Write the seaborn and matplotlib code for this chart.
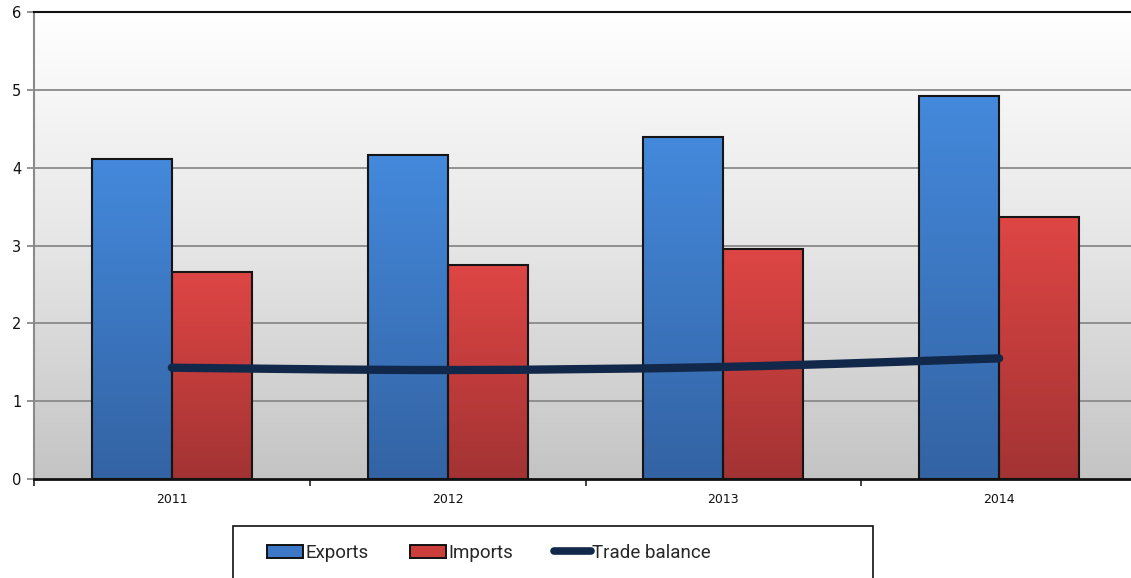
import numpy as np
import pandas as pd
import matplotlib
matplotlib.use("Agg")
import matplotlib.pyplot as plt
from matplotlib.colors import LinearSegmentedColormap
from matplotlib.path import Path
from matplotlib.patches import PathPatch, Patch, Rectangle
from matplotlib.lines import Line2D
import seaborn as sns

# Trade figures by year
years = ["2011", "2012", "2013", "2014"]
exports = [4.11, 4.16, 4.40, 4.92]
imports = [2.66, 2.75, 2.96, 3.36]
trade_balance = [1.43, 1.40, 1.44, 1.55]
y_ticks = [0, 1, 2, 3, 4, 5, 6]

series_names = ["Exports", "Imports"]
top_colors = {"Exports": "#4489DC", "Imports": "#DE4644"}
bottom_colors = {"Exports": "#3363A3", "Imports": "#A33333"}
mid_colors = {"Exports": "#3C78C6", "Imports": "#CC3E3C"}
line_color = "#12284A"

df = pd.DataFrame({
    "year": years * 2,
    "value": exports + imports,
    "series": ["Exports"] * len(years) + ["Imports"] * len(years),
})

sns.set_theme(style="white")
plt.rcParams["font.family"] = ["DejaVu Sans"]

W, H = 1131, 578
fig = plt.figure(figsize=(W / 100, H / 100), dpi=100)
ax_left, ax_right, ax_top, ax_bottom = 34, 1137, 12, 479
ax = fig.add_axes([ax_left / W, 1 - ax_bottom / H,
                   (ax_right - ax_left) / W, (ax_bottom - ax_top) / H])

sns.barplot(data=df, x="year", y="value", hue="series", order=years,
            hue_order=series_names, palette=mid_colors, width=0.58,
            gap=0, ax=ax, legend=False, saturation=1,
            edgecolor="#151515", linewidth=1.5, zorder=3)

ax.set_xlim(-0.5, len(years) - 0.5)
ax.set_ylim(0, 6)

# Plot-area background: light at the top, grey towards the baseline
bg = LinearSegmentedColormap.from_list("bg", ["#C4C4C4", "#E6E6E6", "#FFFFFF"])
ax.imshow(np.linspace(0, 1, 256).reshape(-1, 1), cmap=bg, aspect="auto",
          extent=(-0.5, len(years) - 0.5, 0, 6), origin="lower", zorder=0)

# Vertical gradient fill inside each bar
grad = np.linspace(0, 1, 256).reshape(-1, 1)
for container, name in zip(ax.containers, series_names):
    cmap = LinearSegmentedColormap.from_list(
        name, [bottom_colors[name], top_colors[name]])
    for bar in container:
        x0, w, h = bar.get_x(), bar.get_width(), bar.get_height()
        ax.imshow(grad, cmap=cmap, aspect="auto", origin="lower",
                  extent=(x0, x0 + w, 0, h), zorder=3.5)
        bar.set_facecolor("none")
        bar.set_zorder(4)

# Smoothed trade balance curve (cubic Bezier through each yearly value)
xs = np.arange(len(years), dtype=float)
ys = np.asarray(trade_balance, dtype=float)
verts = [(xs[0], ys[0])]
codes = [Path.MOVETO]
for i in range(len(xs) - 1):
    p0 = np.array([xs[max(i - 1, 0)], ys[max(i - 1, 0)]])
    p1 = np.array([xs[i], ys[i]])
    p2 = np.array([xs[i + 1], ys[i + 1]])
    p3 = np.array([xs[min(i + 2, len(xs) - 1)], ys[min(i + 2, len(xs) - 1)]])
    c1 = p1 + (p2 - p0) / 6.0
    c2 = p2 - (p3 - p1) / 6.0
    verts += [tuple(c1), tuple(c2), tuple(p2)]
    codes += [Path.CURVE4] * 3
ax.add_patch(PathPatch(Path(verts, codes), facecolor="none",
                       edgecolor=line_color, lw=6, capstyle="round",
                       joinstyle="round", zorder=6))

# Axes styling
ax.set_yticks(y_ticks)
ax.set_yticklabels([str(t) for t in y_ticks], fontsize=10.5, color="#111111",
                   fontfamily="DejaVu Sans")
ax.set_xticks(range(len(years)))
ax.set_xticklabels(years, fontsize=9, color="#111111",
                   fontfamily="DejaVu Sans")
ax.set_xlabel("")
ax.set_ylabel("")
for t in y_ticks[1:-1]:
    ax.axhline(t, color="#8A8A8A", lw=1.3, zorder=1)

ax.xaxis.set_minor_locator(matplotlib.ticker.FixedLocator(
    np.arange(-0.5, len(years), 1.0)))
ax.tick_params(axis="x", which="major", length=0, pad=10)
ax.tick_params(axis="x", which="minor", length=5, width=1.2,
               color="#222222", direction="out", bottom=True)
ax.tick_params(axis="y", which="major", length=5, width=1.2,
               color="#808080", direction="out", left=True, pad=4)

ax.spines["top"].set_color("#111111")
ax.spines["top"].set_linewidth(1.5)
ax.spines["bottom"].set_color("#111111")
ax.spines["bottom"].set_linewidth(2)
ax.spines["left"].set_color("#8A8A8A")
ax.spines["left"].set_linewidth(1.5)
ax.spines["right"].set_visible(False)
for s in ax.spines.values():
    s.set_zorder(7)

# Legend box under the chart
fig.patches.append(Rectangle((233 / W, 0 - 0.05), (873 - 233) / W,
                             (H - 526) / H + 0.05, transform=fig.transFigure,
                             facecolor="white", edgecolor="#111111", lw=1.2))
handles = [
    Patch(facecolor=mid_colors["Exports"], edgecolor="#111111", lw=1.4),
    Patch(facecolor=mid_colors["Imports"], edgecolor="#111111", lw=1.4),
    Line2D([0], [0], color=line_color, lw=5.5, solid_capstyle="round"),
]
labels = ["Exports", "Imports", "Trade balance"]
fig.legend(handles, labels, loc="center", ncol=3,
           bbox_to_anchor=(489 / W, 1 - 553 / H), frameon=False,
           prop={"family": ["Roboto", "DejaVu Sans"], "size": 13.5},
           handlelength=1.95, handleheight=0.7,
           handletextpad=0.1, columnspacing=2.2)

fig.savefig("out.png", dpi=100)
